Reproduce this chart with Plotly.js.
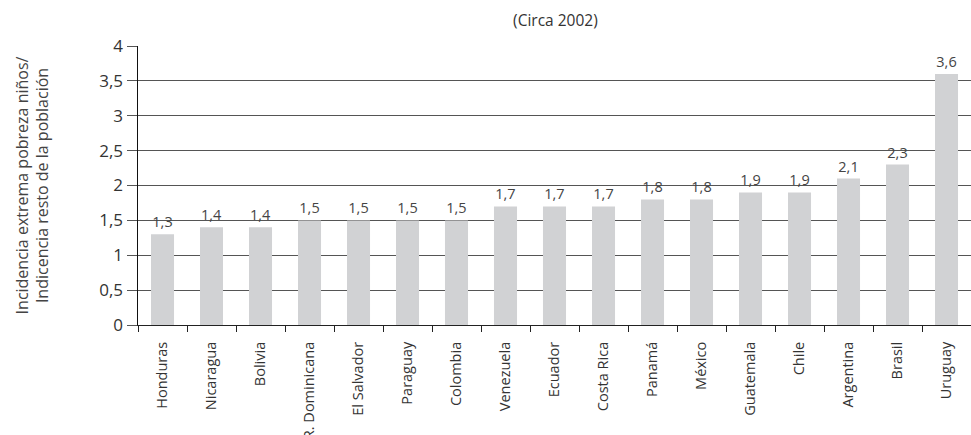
<!DOCTYPE html>
<html><head><meta charset="utf-8">
<script src="https://cdn.plot.ly/plotly-3.0.1.min.js"></script>
<style>html,body{margin:0;padding:0;background:#fff;}#chart{width:971px;height:435px;}</style>
</head><body><div id="chart"></div>
<script>
const countries = ["Honduras","Nicaragua","Bolivia","R. Dominicana","El Salvador","Paraguay","Colombia","Venezuela","Ecuador","Costa Rica","Panamá","México","Guatemala","Chile","Argentina","Brasil","Uruguay"];
const values = [1.3,1.4,1.4,1.5,1.5,1.5,1.5,1.7,1.7,1.7,1.8,1.8,1.9,1.9,2.1,2.3,3.6];
const yTicks = [0,0.5,1,1.5,2,2.5,3,3.5,4];
const yTickText = ["0","0,5","1","1,5","2","2,5","3","3,5","4"];
const labels = values.map(v => v.toFixed(1).replace(".", ","));

const trace = {
  type: "bar", x: countries, y: values, text: labels, textposition: "outside",
  cliponaxis: false,
  textfont: {family: "Open Sans, sans-serif", size: 14.5, color: "#444"},
  marker: {color: "#d1d2d4"}, width: 0.47, hoverinfo: "none"
};
const layout = {
  width: 971, height: 435,
  margin: {l: 138, r: 0, t: 46, b: 110},
  paper_bgcolor: "#fff", plot_bgcolor: "#fff",
  separators: ",.",
  showlegend: false,
  font: {family: "Open Sans, sans-serif", color: "#333"},
  title: {text: "(Circa 2002)", x: 0.572, xanchor: "center", y: 0.952, yanchor: "middle", font: {size: 15.5, color: "#333"}},
  xaxis: {
    type: "category", range: [-0.5, 16.5], tickangle: -90,
    tickfont: {size: 14.5, color: "#333"},
    ticks: "outside", tickson: "boundaries", ticklen: 6, tickcolor: "#222", tickwidth: 1,
    ticklabelstandoff: 10,
    showline: true, linecolor: "#222", linewidth: 1, showgrid: false, automargin: false
  },
  yaxis: {
    range: [0, 4], tickvals: yTicks, ticktext: yTickText,
    tickfont: {size: 17, color: "#333"},
    ticks: "outside", ticklen: 10, tickcolor: "#555", tickwidth: 1,
    showgrid: true, gridcolor: "#555", gridwidth: 1,
    showline: true, linecolor: "#111", linewidth: 1.5, zeroline: false,
    title: {text: "Incidencia extrema pobreza niños/<br>Indicencia resto de la población", font: {size: 16, color: "#444"}, standoff: 46},
    automargin: false
  },
  bargap: 0.53
};
Plotly.newPlot("chart", [trace], layout, {displayModeBar: false, staticPlot: true});
</script></body></html>
